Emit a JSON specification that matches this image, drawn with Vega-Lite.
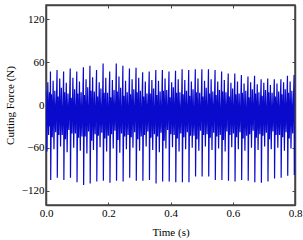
{
"$schema": "https://vega.github.io/schema/vega-lite/v6.json",
"autosize": {"type": "none"},
"padding": {"left": 46, "top": 5, "right": 8, "bottom": 35},
"width": 249,
"height": 200,
"background": "white",
"config": {
  "view": {"stroke": "#444", "strokeWidth": 1.5},
  "axis": {"labelFont": "Liberation Serif, Times New Roman, serif", "titleFont": "Liberation Serif, Times New Roman, serif", "labelFontSize": 11, "titleFontSize": 11, "titleFontWeight": "normal", "labelColor": "#000", "titleColor": "#000", "domainColor": "#444", "domainWidth": 1.5, "tickColor": "#444", "grid": false, "tickSize": -3, "labelPadding": 5, "labelFlush": false}
},
"data": {"values": [
{"t":0.0000,"f":20},{"t":0.0030,"f":-65},{"t":0.0058,"f":32},{"t":0.0085,"f":-42},{"t":0.0112,"f":18},{"t":0.0130,"f":-30},
{"t":0.0143,"f":47},{"t":0.0151,"f":-105},{"t":0.0176,"f":15},{"t":0.0201,"f":-45},{"t":0.0229,"f":34},{"t":0.0256,"f":-62},{"t":0.0283,"f":20},{"t":0.0311,"f":-38},{"t":0.0336,"f":8},
{"t":0.0355,"f":49},{"t":0.0363,"f":-102},{"t":0.0388,"f":12},{"t":0.0413,"f":-42},{"t":0.0441,"f":37},{"t":0.0468,"f":-58},{"t":0.0495,"f":24},{"t":0.0523,"f":-42},{"t":0.0548,"f":4},
{"t":0.0566,"f":47},{"t":0.0574,"f":-105},{"t":0.0599,"f":18},{"t":0.0624,"f":-48},{"t":0.0652,"f":31},{"t":0.0679,"f":-66},{"t":0.0706,"f":16},{"t":0.0734,"f":-35},{"t":0.0759,"f":12},
{"t":0.0778,"f":51},{"t":0.0786,"f":-102},{"t":0.0811,"f":10},{"t":0.0836,"f":-40},{"t":0.0864,"f":38},{"t":0.0891,"f":-60},{"t":0.0918,"f":22},{"t":0.0946,"f":-40},{"t":0.0971,"f":6},
{"t":0.0989,"f":47},{"t":0.0997,"f":-108},{"t":0.1022,"f":16},{"t":0.1047,"f":-46},{"t":0.1075,"f":33},{"t":0.1102,"f":-64},{"t":0.1129,"f":18},{"t":0.1157,"f":-44},{"t":0.1182,"f":10},
{"t":0.1201,"f":53},{"t":0.1209,"f":-112},{"t":0.1234,"f":14},{"t":0.1259,"f":-44},{"t":0.1287,"f":36},{"t":0.1314,"f":-68},{"t":0.1341,"f":25},{"t":0.1369,"f":-37},{"t":0.1394,"f":3},
{"t":0.1412,"f":55},{"t":0.1420,"f":-110},{"t":0.1445,"f":20},{"t":0.1470,"f":-50},{"t":0.1498,"f":39},{"t":0.1525,"f":-63},{"t":0.1552,"f":19},{"t":0.1580,"f":-41},{"t":0.1605,"f":9},
{"t":0.1624,"f":49},{"t":0.1632,"f":-107},{"t":0.1657,"f":12},{"t":0.1682,"f":-43},{"t":0.1710,"f":32},{"t":0.1737,"f":-59},{"t":0.1764,"f":23},{"t":0.1792,"f":-39},{"t":0.1817,"f":5},
{"t":0.1835,"f":58},{"t":0.1843,"f":-106},{"t":0.1868,"f":17},{"t":0.1893,"f":-47},{"t":0.1921,"f":38},{"t":0.1948,"f":-65},{"t":0.1975,"f":17},{"t":0.2003,"f":-43},{"t":0.2028,"f":11},
{"t":0.2047,"f":47},{"t":0.2055,"f":-109},{"t":0.2080,"f":11},{"t":0.2105,"f":-41},{"t":0.2133,"f":35},{"t":0.2160,"f":-61},{"t":0.2187,"f":21},{"t":0.2215,"f":-36},{"t":0.2240,"f":7},
{"t":0.2258,"f":58},{"t":0.2266,"f":-106},{"t":0.2291,"f":19},{"t":0.2316,"f":-49},{"t":0.2344,"f":40},{"t":0.2371,"f":-67},{"t":0.2398,"f":24},{"t":0.2426,"f":-40},{"t":0.2451,"f":2},
{"t":0.2470,"f":55},{"t":0.2478,"f":-107},{"t":0.2503,"f":13},{"t":0.2528,"f":-44},{"t":0.2556,"f":34},{"t":0.2583,"f":-62},{"t":0.2610,"f":18},{"t":0.2638,"f":-42},{"t":0.2663,"f":10},
{"t":0.2681,"f":51},{"t":0.2689,"f":-102},{"t":0.2714,"f":15},{"t":0.2739,"f":-45},{"t":0.2767,"f":36},{"t":0.2794,"f":-60},{"t":0.2821,"f":22},{"t":0.2849,"f":-38},{"t":0.2874,"f":6},
{"t":0.2893,"f":52},{"t":0.2901,"f":-106},{"t":0.2926,"f":18},{"t":0.2951,"f":-48},{"t":0.2979,"f":38},{"t":0.3006,"f":-64},{"t":0.3033,"f":20},{"t":0.3061,"f":-44},{"t":0.3086,"f":8},
{"t":0.3105,"f":46},{"t":0.3113,"f":-106},{"t":0.3138,"f":12},{"t":0.3163,"f":-42},{"t":0.3191,"f":33},{"t":0.3218,"f":-58},{"t":0.3245,"f":16},{"t":0.3273,"f":-37},{"t":0.3298,"f":12},
{"t":0.3316,"f":47},{"t":0.3324,"f":-105},{"t":0.3349,"f":16},{"t":0.3374,"f":-46},{"t":0.3402,"f":35},{"t":0.3429,"f":-63},{"t":0.3456,"f":23},{"t":0.3484,"f":-41},{"t":0.3509,"f":4},
{"t":0.3528,"f":49},{"t":0.3536,"f":-110},{"t":0.3561,"f":14},{"t":0.3586,"f":-44},{"t":0.3614,"f":34},{"t":0.3641,"f":-66},{"t":0.3668,"f":19},{"t":0.3696,"f":-39},{"t":0.3721,"f":9},
{"t":0.3739,"f":49},{"t":0.3747,"f":-107},{"t":0.3772,"f":20},{"t":0.3797,"f":-50},{"t":0.3825,"f":37},{"t":0.3852,"f":-61},{"t":0.3879,"f":21},{"t":0.3907,"f":-35},{"t":0.3932,"f":6},
{"t":0.3951,"f":47},{"t":0.3959,"f":-107},{"t":0.3984,"f":11},{"t":0.4009,"f":-41},{"t":0.4037,"f":32},{"t":0.4064,"f":-59},{"t":0.4091,"f":25},{"t":0.4119,"f":-42},{"t":0.4144,"f":11},
{"t":0.4162,"f":48},{"t":0.4170,"f":-108},{"t":0.4195,"f":17},{"t":0.4220,"f":-47},{"t":0.4248,"f":36},{"t":0.4275,"f":-65},{"t":0.4302,"f":18},{"t":0.4330,"f":-40},{"t":0.4355,"f":5},
{"t":0.4374,"f":50},{"t":0.4382,"f":-108},{"t":0.4407,"f":15},{"t":0.4432,"f":-45},{"t":0.4460,"f":35},{"t":0.4487,"f":-62},{"t":0.4514,"f":20},{"t":0.4542,"f":-38},{"t":0.4567,"f":8},
{"t":0.4585,"f":49},{"t":0.4593,"f":-108},{"t":0.4618,"f":13},{"t":0.4643,"f":-43},{"t":0.4671,"f":33},{"t":0.4698,"f":-60},{"t":0.4725,"f":22},{"t":0.4753,"f":-43},{"t":0.4778,"f":3},
{"t":0.4797,"f":50},{"t":0.4805,"f":-100},{"t":0.4830,"f":18},{"t":0.4855,"f":-48},{"t":0.4883,"f":37},{"t":0.4910,"f":-64},{"t":0.4937,"f":17},{"t":0.4965,"f":-36},{"t":0.4990,"f":10},
{"t":0.5008,"f":50},{"t":0.5016,"f":-100},{"t":0.5041,"f":12},{"t":0.5066,"f":-42},{"t":0.5094,"f":34},{"t":0.5121,"f":-58},{"t":0.5148,"f":24},{"t":0.5176,"f":-41},{"t":0.5201,"f":7},
{"t":0.5220,"f":50},{"t":0.5228,"f":-100},{"t":0.5253,"f":16},{"t":0.5278,"f":-46},{"t":0.5306,"f":36},{"t":0.5333,"f":-63},{"t":0.5360,"f":19},{"t":0.5388,"f":-39},{"t":0.5413,"f":9},
{"t":0.5432,"f":49},{"t":0.5440,"f":-105},{"t":0.5465,"f":14},{"t":0.5490,"f":-44},{"t":0.5518,"f":33},{"t":0.5545,"f":-61},{"t":0.5572,"f":21},{"t":0.5600,"f":-42},{"t":0.5625,"f":4},
{"t":0.5643,"f":47},{"t":0.5651,"f":-105},{"t":0.5676,"f":19},{"t":0.5701,"f":-49},{"t":0.5729,"f":35},{"t":0.5756,"f":-65},{"t":0.5783,"f":18},{"t":0.5811,"f":-37},{"t":0.5836,"f":12},
{"t":0.5855,"f":44},{"t":0.5863,"f":-106},{"t":0.5888,"f":12},{"t":0.5913,"f":-42},{"t":0.5941,"f":31},{"t":0.5968,"f":-59},{"t":0.5995,"f":23},{"t":0.6023,"f":-40},{"t":0.6048,"f":6},
{"t":0.6066,"f":44},{"t":0.6074,"f":-107},{"t":0.6099,"f":15},{"t":0.6124,"f":-45},{"t":0.6152,"f":33},{"t":0.6179,"f":-62},{"t":0.6206,"f":16},{"t":0.6234,"f":-38},{"t":0.6259,"f":8},
{"t":0.6278,"f":42},{"t":0.6286,"f":-105},{"t":0.6311,"f":17},{"t":0.6336,"f":-47},{"t":0.6364,"f":30},{"t":0.6391,"f":-64},{"t":0.6418,"f":20},{"t":0.6446,"f":-43},{"t":0.6471,"f":5},
{"t":0.6489,"f":40},{"t":0.6497,"f":-106},{"t":0.6522,"f":11},{"t":0.6547,"f":-41},{"t":0.6575,"f":32},{"t":0.6602,"f":-60},{"t":0.6629,"f":22},{"t":0.6657,"f":-36},{"t":0.6682,"f":10},
{"t":0.6701,"f":41},{"t":0.6709,"f":-108},{"t":0.6734,"f":16},{"t":0.6759,"f":-46},{"t":0.6787,"f":29},{"t":0.6814,"f":-63},{"t":0.6841,"f":18},{"t":0.6869,"f":-41},{"t":0.6894,"f":7},
{"t":0.6912,"f":36},{"t":0.6920,"f":-109},{"t":0.6945,"f":13},{"t":0.6970,"f":-43},{"t":0.6998,"f":31},{"t":0.7025,"f":-58},{"t":0.7052,"f":21},{"t":0.7080,"f":-39},{"t":0.7105,"f":4},
{"t":0.7124,"f":37},{"t":0.7132,"f":-107},{"t":0.7157,"f":18},{"t":0.7182,"f":-48},{"t":0.7210,"f":28},{"t":0.7237,"f":-62},{"t":0.7264,"f":17},{"t":0.7292,"f":-37},{"t":0.7317,"f":9},
{"t":0.7335,"f":36},{"t":0.7343,"f":-103},{"t":0.7368,"f":12},{"t":0.7393,"f":-42},{"t":0.7421,"f":30},{"t":0.7448,"f":-60},{"t":0.7475,"f":19},{"t":0.7503,"f":-42},{"t":0.7528,"f":6},
{"t":0.7547,"f":36},{"t":0.7555,"f":-102},{"t":0.7580,"f":15},{"t":0.7605,"f":-45},{"t":0.7633,"f":32},{"t":0.7660,"f":-64},{"t":0.7687,"f":22},{"t":0.7715,"f":-38},{"t":0.7740,"f":11},
{"t":0.7758,"f":41},{"t":0.7766,"f":-99},{"t":0.7791,"f":17},{"t":0.7816,"f":-47},{"t":0.7844,"f":33},{"t":0.7871,"f":-61},{"t":0.7898,"f":20},{"t":0.7926,"f":-40},{"t":0.7951,"f":8},
{"t":0.7970,"f":42},{"t":0.7978,"f":-98},{"t":0.8000,"f":-30}
]},
"layer": [
  {
    "mark": {"type": "line", "color": "#0a0acc", "strokeWidth": 1.2, "clip": true},
    "encoding": {
      "x": {"field": "t", "type": "quantitative", "scale": {"domain": [0, 0.8], "nice": false, "zero": false},
            "axis": {"orient": "bottom", "values": [0, 0.2, 0.4, 0.6, 0.8], "format": ".1f", "title": "Time (s)", "titlePadding": 8}},
      "y": {"field": "f", "type": "quantitative", "scale": {"domain": [-140, 140], "nice": false, "zero": false},
            "axis": {"orient": "left", "values": [-120, -60, 0, 60, 120], "format": "d", "title": "Cutting  Force (N)", "titlePadding": 6}}
    }
  },
  {
    "mark": {"type": "line", "opacity": 0},
    "encoding": {
      "x": {"field": "t", "type": "quantitative", "axis": {"orient": "top", "values": [0, 0.2, 0.4, 0.6, 0.8], "labels": false, "title": null}},
      "y": {"field": "f", "type": "quantitative", "axis": {"orient": "right", "values": [-120, -60, 0, 60, 120], "labels": false, "title": null}}
    }
  }
],
"resolve": {"axis": {"x": "independent", "y": "independent"}}
}
